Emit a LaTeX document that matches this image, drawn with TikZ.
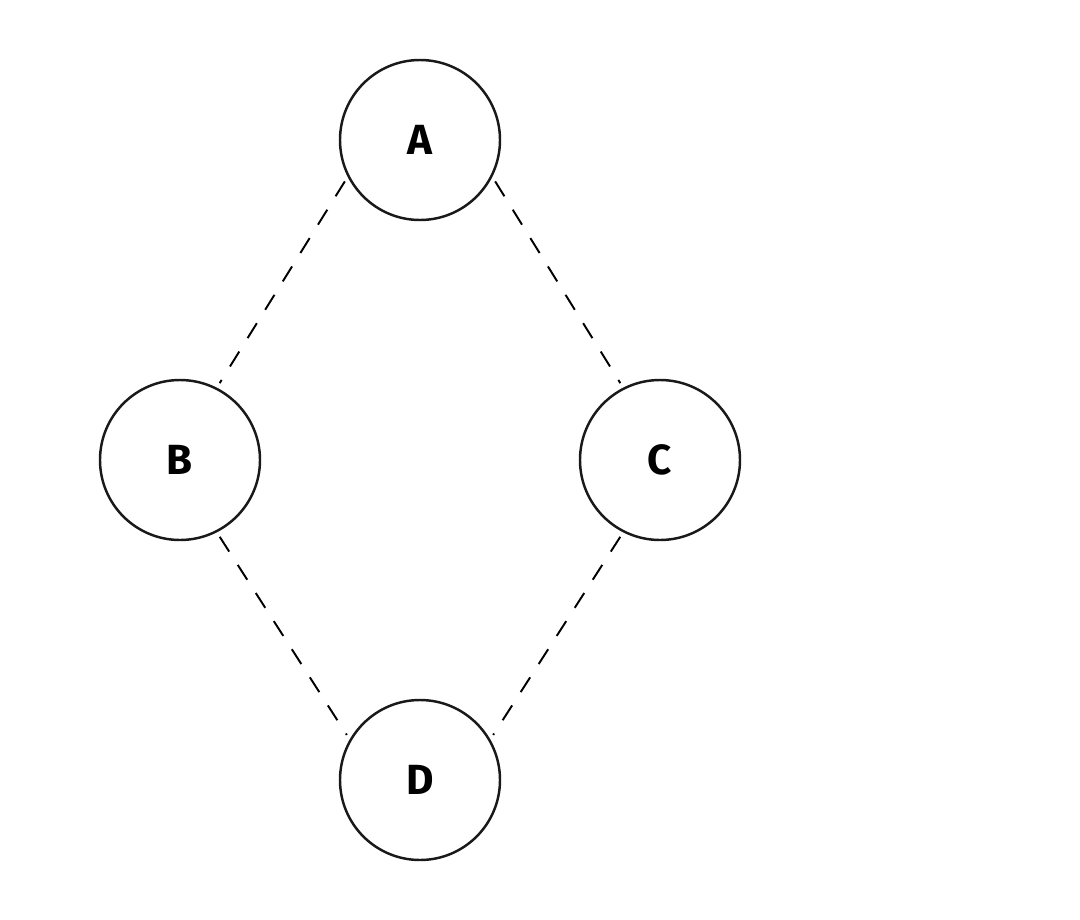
\documentclass[tikz,border=0pt]{standalone}
\usepackage{fontspec}
\setmainfont{Fira Sans}
\begin{document}
\begin{tikzpicture}[x=0.02cm,y=-0.02cm,
  vert/.style={circle,draw=black!90,line width=1.4pt,minimum size=160*0.02cm,inner sep=0pt,font=\fontsize{24}{24}\selectfont\bfseries},
  link/.style={dashed,dash pattern=on 10pt off 9pt,line width=1.1pt,shorten <=3pt,shorten >=3pt}]
\useasboundingbox (0,0) rectangle (1080,920);
\node[vert] (A) at (420,140) {A};
\node[vert] (B) at (180,460) {B};
\node[vert] (C) at (660,460) {C};
\node[vert] (D) at (420,780) {D};
\draw[link] (A.207) -- (B.63);
\draw[link] (A.333) -- (C.117);
\draw[link] (B.297) -- (D.150);
\draw[link] (C.243) -- (D.30);
\end{tikzpicture}
\end{document}
